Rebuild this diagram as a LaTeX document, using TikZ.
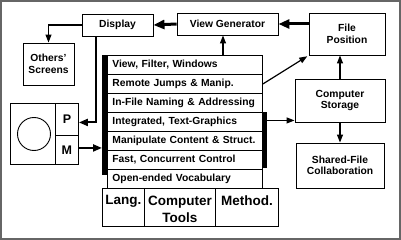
\documentclass[tikz,border=0pt]{standalone}
\usepackage{fontspec}
\setmainfont{Liberation Sans}
\usetikzlibrary{arrows.meta,calc}
\newcommand\lblfont{\fontsize{10.3}{11.5}\selectfont\bfseries}
\newcommand\bigfont{\fontsize{13.5}{17}\selectfont\bfseries}
\newcommand\pmfont{\fontsize{12.5}{14}\selectfont\bfseries}
\begin{document}
\begin{tikzpicture}[x=1pt,y=-1pt,
  box/.style={draw=black,line width=0.9pt,inner sep=0pt,align=center,font=\lblfont},
  rowbox/.style={draw=black,line width=0.9pt,anchor=north west,minimum height=19pt,
    text width=145pt,inner xsep=5pt,inner ysep=0pt,align=left,font=\lblfont},
  cellbox/.style={draw=black,line width=0.9pt,anchor=north west,inner sep=0pt,minimum height=38pt},
  bigtext/.style={anchor=north,inner sep=0pt,align=center,font=\bigfont},
  bar/.style={fill=black,inner sep=0pt,anchor=north west,minimum width=5pt},
  thin/.style={line width=1.2pt,-{Triangle[length=8pt,width=6pt]}},
  mid/.style={line width=2pt,-{Triangle[length=9pt,width=7pt]}},
  thick/.style={line width=3pt,-{Triangle[length=11pt,width=9pt]}}]
\useasboundingbox (0,0) rectangle (401,240);
% frame
\draw[black!60,line width=2pt] (1,1) rectangle (400,239);

% upper boxes
\node[box,minimum width=71pt,minimum height=22pt] (disp) at (117.5,25) {Display};
\node[box,minimum width=101pt,minimum height=22pt] (vg) at (227.5,24) {View Generator};
\node[box,minimum width=76pt,minimum height=42pt] (fp) at (347,34) {File\\Position};
\node[box,minimum width=51pt,minimum height=42pt] (os) at (48.5,64) {Others'\\Screens};
\node[box,minimum width=90pt,minimum height=43pt] (cs) at (340,100.5) {Computer\\Storage};
\node[box,minimum width=88pt,minimum height=45pt] (sh) at (340,165.5) {Shared-File\\Collaboration};

% user station
\node[draw=black,line width=0.9pt,anchor=north west,inner sep=0pt,minimum width=68pt,minimum height=61pt] (pm) at (10,103) {};
\node[draw=black,line width=0.9pt,circle,inner sep=0pt,minimum size=33pt] (circ) at (34,134) {};
\node[draw=black,line width=0.9pt,anchor=north west,inner sep=0pt,minimum width=23pt,minimum height=32pt,font=\pmfont] (p) at (55,103) {P};
\node[draw=black,line width=0.9pt,anchor=north west,inner sep=0pt,minimum width=23pt,minimum height=29pt,font=\pmfont] (m) at (55,135) {M};

% capability stack
\node[rowbox] (r1) at (107,55) {View, Filter, Windows};
\node[rowbox] (r2) at (107,74) {Remote Jumps \& Manip.};
\node[rowbox] (r3) at (107,93) {In-File Naming \& Addressing};
\node[rowbox] (r4) at (107,112) {Integrated, Text-Graphics};
\node[rowbox] (r5) at (107,131) {Manipulate Content \& Struct.};
\node[rowbox] (r6) at (107,150) {Fast, Concurrent Control};
\node[rowbox] (r7) at (107,169) {Open-ended Vocabulary};
\node[bar,minimum height=120pt] (lbar) at (102,55) {};
\node[bar,minimum height=56pt] (rbar) at (262,112) {};

% base
\node[cellbox,minimum width=42pt] (lang) at (102,188) {};
\node[cellbox,minimum width=71pt] (tools) at (144,188) {};
\node[cellbox,minimum width=63pt] (meth) at (215,188) {};
\node[bigtext] (langt) at ($(lang.north)+(0,7.5)$) {Lang.};
\node[bigtext] (toolst) at ($(tools.north)+(0,7.5)$) {Computer\\Tools};
\node[bigtext] (metht) at ($(meth.north)+(0,7.5)$) {Method.};

% connectors
\draw[thick] (vg.west) -- (disp.east);
\draw[thick] (fp.west |- vg.east) -- (vg.east);
\draw[thin] (disp.west) -| (os.north);
\coordinate (vgin) at ($(vg.south)+(-4.5,0)$);
\draw[thin] (r1.north -| vgin) -- (vgin);
\coordinate (dp) at ($(disp.south west)+(14,0)$);
\coordinate (pin) at ($(p.east)+(0,3)$);
\draw[mid] (dp) |- (pin);
\coordinate (mout) at ($(m.east)+(0,-2)$);
\draw[mid] (mout) -- (mout -| lbar.west);
\draw[thin,shorten >=1.5pt] (r2.east) -- (fp.south west);
\coordinate (csin) at ($(cs.south west)+(0,-2)$);
\draw[line width=1pt,-{Triangle[length=8pt,width=6pt]}] (csin -| rbar.east) -- (csin);
\draw[thin] (cs.north) -- (cs.north |- fp.south);
\draw[thin] (cs.south) -- (sh.north);
\end{tikzpicture}
\end{document}
